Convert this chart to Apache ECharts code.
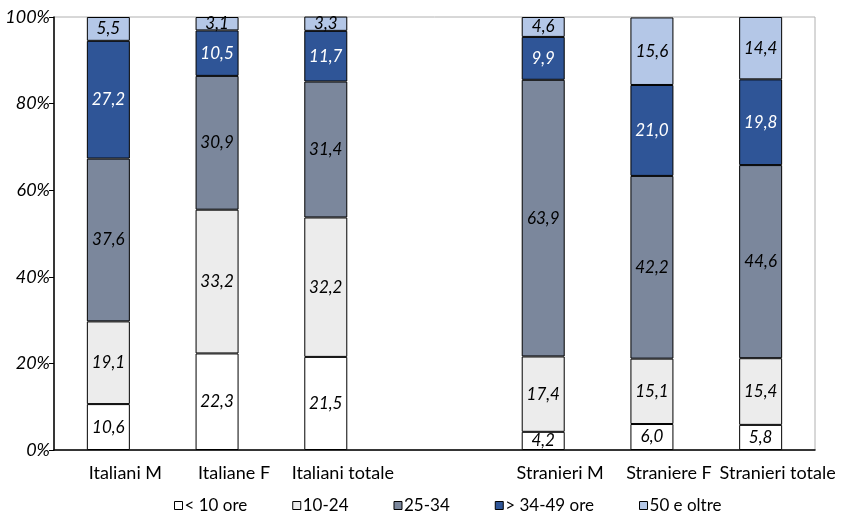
<!DOCTYPE html>
<html>
<head>
<meta charset="utf-8">
<script src="https://cdn.jsdelivr.net/npm/echarts@6/dist/echarts.min.js"></script>
<style>
  html, body { margin: 0; padding: 0; background: #fff; }
  #chart { width: 854px; height: 515px; }
</style>
</head>
<body>
<div id="chart"></div>
<script>
// Groups on the horizontal axis; the empty slot separates Italians from foreigners
const categories = ['Italiani M', 'Italiane F', 'Italiani totale', '', 'Stranieri M', 'Straniere F', 'Stranieri totale'];

// Share of workers (%) by weekly hours class
const lt10    = [10.6, 22.3, 21.5, null, 4.2, 6.0, 5.8];
const h10_24  = [19.1, 33.2, 32.2, null, 17.4, 15.1, 15.4];
const h25_34  = [37.6, 30.9, 31.4, null, 63.9, 42.2, 44.6];
const h34_49  = [27.2, 10.5, 11.7, null, 9.9, 21.0, 19.8];
const h50plus = [5.5, 3.1, 3.3, null, 4.6, 15.6, 14.4];

const seriesNames = ['< 10 ore', '10-24', '25-34', '> 34-49 ore', '50 e oltre'];
const seriesData = [lt10, h10_24, h25_34, h34_49, h50plus];
const colors = ['#ffffff', '#ececec', '#7b879c', '#2f5597', '#b4c7e7'];
const labelColors = ['#000', '#000', '#000', '#fff', '#000'];

const FONT = 'Lato';

const chart = echarts.init(document.getElementById('chart'), null, { renderer: 'canvas' });

const series = seriesNames.map((name, i) => ({
  name: name,
  type: 'bar',
  stack: 'total',
  barWidth: 43,
  data: seriesData[i],
  itemStyle: { color: colors[i], borderColor: '#000', borderWidth: 1 },
  label: {
    show: true,
    position: 'inside',
    color: labelColors[i],
    fontFamily: FONT,
    fontStyle: 'italic',
    fontSize: 17,
    formatter: p => (p.value == null ? '' : p.value.toFixed(1).replace('.', ','))
  },
  emphasis: { disabled: true }
}));

chart.setOption({
  animation: false,
  textStyle: { fontFamily: FONT },
  grid: {
    left: 54, right: 39, top: 17, bottom: 65,
    show: true, borderColor: '#b0b0b0', borderWidth: 1
  },
  legend: {
    data: seriesNames,
    left: 174,
    top: 497,
    padding: 0,
    itemWidth: 8,
    itemHeight: 8,
    itemGap: 45,
    icon: 'rect',
    textStyle: { fontFamily: FONT, fontSize: 17, color: '#000', padding: [0, 0, 0, -3] },
    itemStyle: { borderColor: '#000', borderWidth: 1 }
  },
  xAxis: {
    type: 'category',
    data: categories,
    axisLine: { lineStyle: { color: '#000', width: 1.5 } },
    axisTick: { show: false },
    axisLabel: {
      color: '#000', fontFamily: FONT, fontSize: 18, margin: 14,
      interval: 0, padding: [0, 0, 0, 34]
    }
  },
  yAxis: {
    type: 'value',
    min: 0, max: 100, interval: 20,
    splitLine: { show: false },
    axisLine: { show: true, lineStyle: { color: '#000', width: 1.5 } },
    axisTick: { show: true, length: 5, lineStyle: { color: '#000' } },
    axisLabel: {
      color: '#000', fontFamily: FONT, fontStyle: 'italic', fontSize: 18, margin: 4,
      formatter: '{value}%'
    }
  },
  series: series
});
</script>
</body>
</html>
